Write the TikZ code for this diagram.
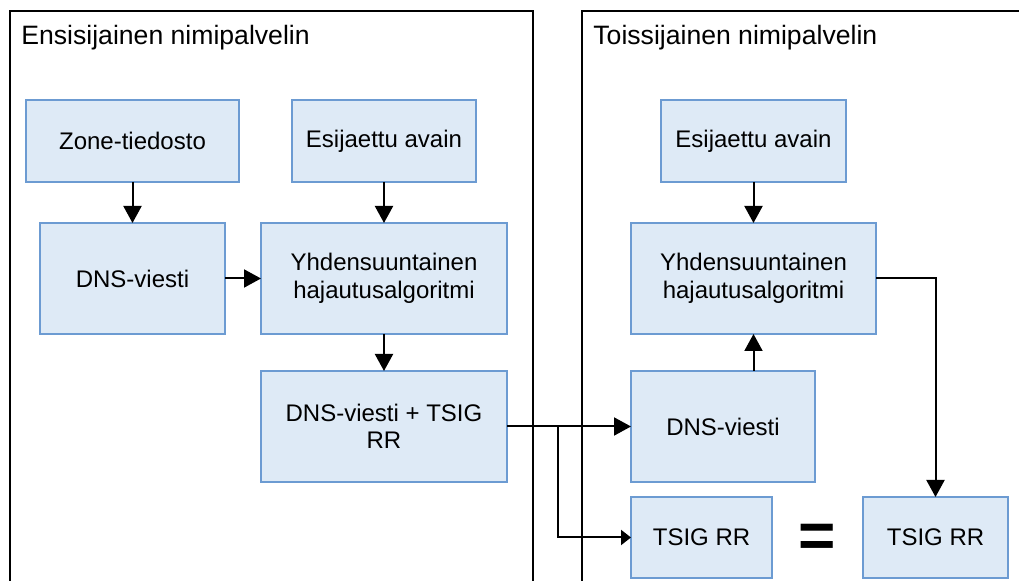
\documentclass[tikz,border=0pt]{standalone}
\usepackage{fontspec}
\setmainfont{Liberation Sans}
\usepackage{xcolor}
\usetikzlibrary{arrows.meta,positioning,calc}
\definecolor{boxfill}{RGB}{222,234,246}
\definecolor{boxline}{RGB}{108,155,210}
\tikzset{
  msgbox/.style={draw=boxline,fill=boxfill,line width=0.9pt,align=center,
    inner sep=0pt,outer sep=0pt,font=\fontsize{12}{13.75}\selectfont},
  serverframe/.style={draw=black,line width=1pt},
  framelabel/.style={anchor=base west,inner sep=0pt,font=\fontsize{13.3}{15}\selectfont},
  flowarrow/.style={-{Triangle[length=8.5pt,width=9pt]},line width=1pt},
  smallarrow/.style={-{Triangle[length=5pt,width=7.5pt]},line width=1pt},
  eqsign/.style={font=\fontsize{32}{32}\selectfont\bfseries,inner sep=0pt}
}

\begin{document}
\begin{tikzpicture}[x=0.5pt,y=-0.5pt,node distance=20.5pt and 18pt]
  \useasboundingbox (0,0) rectangle (1019,581);
  % server frames, cut at the page edge
  \draw[serverframe] (10,581) -- (10,11) -- (533,11) -- (533,581);
  \draw[serverframe] (582,581) -- (582,11) -- (1019,11);
  \node[framelabel] (primlabel) at (21,45) {Ensisijainen nimipalvelin};
  \node[framelabel] (seclabel) at (593,45) {Toissijainen nimipalvelin};

  % primary server
  \node[msgbox,minimum width=92pt,minimum height=41pt] (keyL) at (384,141) {Esijaettu avain};
  \node[msgbox,below=of keyL,minimum width=123pt,minimum height=55.5pt] (hashL) {Yhdensuuntainen\\hajautusalgoritmi};
  \node[msgbox,left=of hashL,minimum width=92.5pt,minimum height=55.5pt] (dnsL) {DNS-viesti};
  \node[msgbox,above=of dnsL,minimum width=106.5pt,minimum height=41pt] (zone) {Zone-tiedosto};
  \node[msgbox,below=18.5pt of hashL,minimum width=123pt,minimum height=55.5pt] (signed) {DNS-viesti + TSIG\\RR};

  % secondary server
  \node[msgbox,minimum width=92.5pt,minimum height=41pt] (keyR) at (753.5,141) {Esijaettu avain};
  \node[msgbox,below=of keyR,minimum width=122.5pt,minimum height=55.5pt] (hashR) {Yhdensuuntainen\\hajautusalgoritmi};
  \node[msgbox,below right=18.5pt and 0pt of hashR.south west,minimum width=92pt,minimum height=55.5pt] (dnsR) {DNS-viesti};
  \node[msgbox,below right=7.5pt and 0pt of dnsR.south west,minimum width=70.5pt,minimum height=40.5pt] (tsigA) {TSIG RR};
  \node[msgbox,right=45.5pt of tsigA,minimum width=72.5pt,minimum height=40.5pt] (tsigB) {TSIG RR};
  \node[eqsign] (eq) at ([yshift=-1.5pt]$(tsigA.east)!0.5!(tsigB.west)$) {=};

  \draw[flowarrow] (zone) -- (dnsL);
  \draw[flowarrow] (keyL) -- (hashL);
  \draw[flowarrow] (dnsL) -- (hashL);
  \draw[flowarrow] (hashL) -- (signed);
  \draw[flowarrow] (signed) -- (dnsR);
  \coordinate (fork) at ([xshift=25.5pt]signed.east);
  \draw[smallarrow] (fork) |- (tsigA.west);
  \draw[flowarrow] (keyR) -- (hashR);
  \draw[flowarrow] (hashR.south |- dnsR.north) -- (hashR.south);
  \draw[flowarrow] (hashR.east) -| (tsigB.north);
\end{tikzpicture}
\end{document}
